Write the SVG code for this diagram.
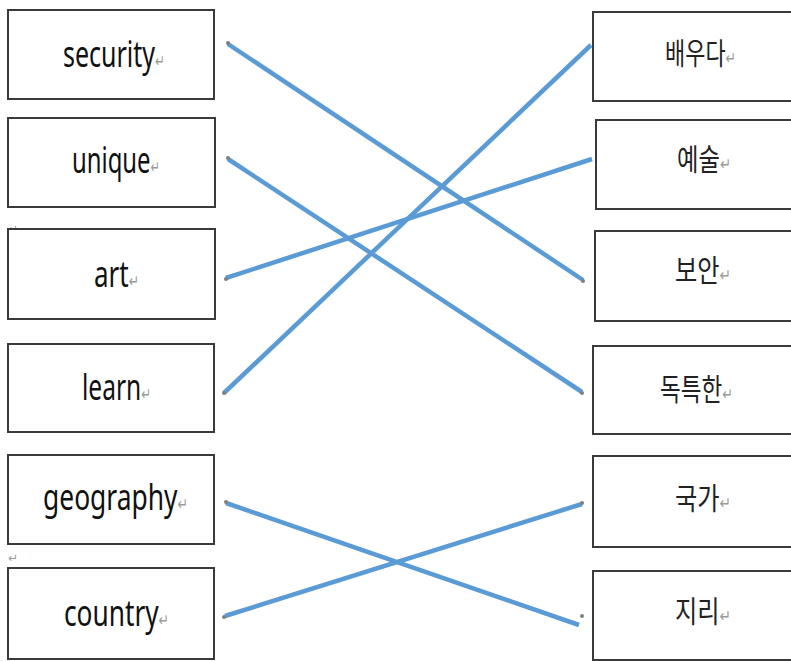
<svg xmlns="http://www.w3.org/2000/svg" width="791" height="661" viewBox="0 0 791 661">
<style>
.box{fill:#fff;stroke:#3a3a3a;stroke-width:2}
.en{font-family:"Noto Sans","Open Sans",sans-serif;font-size:36px;fill:#111}
.ko{font-family:"Noto Sans CJK KR","Noto Sans",sans-serif;font-size:30px;fill:#222}
.r{font-family:"DejaVu Sans",sans-serif;font-size:17px;fill:#999}
.ret{font-family:"DejaVu Sans",sans-serif;font-size:12px;fill:#999}
.ln{stroke:#5B9BD5;stroke-width:4.5;fill:none;stroke-linecap:butt}
.dot{fill:#7f7f7f}
</style>
<rect width="791" height="661" fill="#fff"/>
<text class="ret" x="8" y="233">↵</text>
<text class="ret" x="8" y="562">↵</text>
<g id="n-security"><rect class="box" x="8" y="10" width="206" height="89"/><text class="en" x="63" y="67" textLength="102" lengthAdjust="spacingAndGlyphs">security<tspan class="r">↵</tspan></text></g>
<g id="n-unique"><rect class="box" x="8" y="118" width="207" height="89"/><text class="en" x="72" y="173" textLength="88" lengthAdjust="spacingAndGlyphs">unique<tspan class="r">↵</tspan></text></g>
<g id="n-art"><rect class="box" x="8" y="229" width="207" height="90"/><text class="en" x="94" y="287" textLength="45" lengthAdjust="spacingAndGlyphs">art<tspan class="r">↵</tspan></text></g>
<g id="n-learn"><rect class="box" x="8" y="344" width="206" height="88"/><text class="en" x="82" y="400" textLength="69" lengthAdjust="spacingAndGlyphs">learn<tspan class="r">↵</tspan></text></g>
<g id="n-geography"><rect class="box" x="8" y="455" width="206" height="89"/><text class="en" x="43" y="510" textLength="145" lengthAdjust="spacingAndGlyphs">geography<tspan class="r">↵</tspan></text></g>
<g id="n-country"><rect class="box" x="8" y="568" width="206" height="91"/><text class="en" x="64" y="626" textLength="105" lengthAdjust="spacingAndGlyphs">country<tspan class="r">↵</tspan></text></g>
<g id="n-baeuda"><rect class="box" x="593" y="12" width="210" height="89"/><text class="ko" x="665" y="64" textLength="71" lengthAdjust="spacingAndGlyphs">배우다<tspan class="r">↵</tspan></text></g>
<g id="n-yesul"><rect class="box" x="596" y="120" width="210" height="89"/><text class="ko" x="677" y="170" textLength="54" lengthAdjust="spacingAndGlyphs">예술<tspan class="r">↵</tspan></text></g>
<g id="n-boan"><rect class="box" x="595" y="231" width="210" height="90"/><text class="ko" x="675" y="281" textLength="56" lengthAdjust="spacingAndGlyphs">보안<tspan class="r">↵</tspan></text></g>
<g id="n-dokteukhan"><rect class="box" x="593" y="346" width="210" height="88"/><text class="ko" x="660" y="400" textLength="73" lengthAdjust="spacingAndGlyphs">독특한<tspan class="r">↵</tspan></text></g>
<g id="n-gukga"><rect class="box" x="593" y="456" width="210" height="91"/><text class="ko" x="675" y="509" textLength="56" lengthAdjust="spacingAndGlyphs">국가<tspan class="r">↵</tspan></text></g>
<g id="n-jiri"><rect class="box" x="593" y="571" width="210" height="89"/><text class="ko" x="675" y="622" textLength="56" lengthAdjust="spacingAndGlyphs">지리<tspan class="r">↵</tspan></text></g>
<g id="connectors">
<line class="ln" x1="228" y1="44" x2="583" y2="280"/>
<line class="ln" x1="228" y1="159" x2="582" y2="392"/>
<line class="ln" x1="226" y1="278" x2="592" y2="159"/>
<line class="ln" x1="224" y1="393" x2="591" y2="45"/>
<line class="ln" x1="226" y1="503" x2="579" y2="625"/>
<line class="ln" x1="225" y1="616" x2="582" y2="504"/>
<circle class="dot" cx="228" cy="43" r="2"/>
<circle class="dot" cx="228" cy="158" r="2"/>
<circle class="dot" cx="226" cy="279" r="2"/>
<circle class="dot" cx="224" cy="393" r="2"/>
<circle class="dot" cx="226" cy="502" r="2"/>
<circle class="dot" cx="224" cy="617" r="2"/>
<circle class="dot" cx="583" cy="281" r="2"/>
<circle class="dot" cx="582" cy="393" r="2"/>
<circle class="dot" cx="582" cy="503" r="2"/>
<circle class="dot" cx="582" cy="616" r="2"/>
</g>
</svg>
